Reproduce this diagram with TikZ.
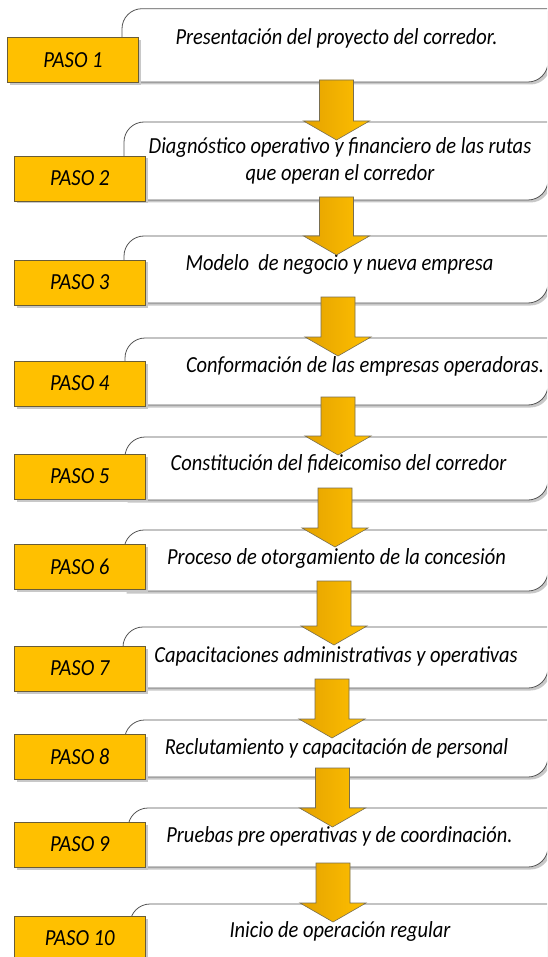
\documentclass[tikz,border=0pt]{standalone}
\usepackage{fontspec}
\usepackage{graphicx}
\setmainfont{Carlito}
\usetikzlibrary{calc,shadows}
\definecolor{gold}{RGB}{255,192,0}
\definecolor{golddark}{RGB}{228,162,0}
\definecolor{pasoline}{RGB}{105,92,55}
\definecolor{boxline}{RGB}{85,85,85}
\definecolor{shadowgray}{RGB}{200,200,200}
\definecolor{arrowline}{RGB}{120,110,80}
\newcommand\WBoxPath[3]{(#1,#3) -- (#1,#2+20) .. controls (#1,#2+9) and (#1+9,#2) .. (#1+20,#2) -- (548,#2) -- (548,#3-20) .. controls (548,#3-9) and (539,#3) .. (528,#3) -- cycle}
\newcommand\WBox[3]{%
  \fill[shadowgray,shift={(2.5,2.5)}] \WBoxPath{#1}{#2}{#3};
  \draw[wbox] \WBoxPath{#1}{#2}{#3};}
\newcommand\BArrow[4]{%
  \coordinate (#1s) at (#2,#3);
  \coordinate (#1e) at (#2,#4);
  \draw[barrow] ([xshift=-17pt]#1s) -- ([xshift=17pt]#1s) -- ([xshift=17pt,yshift=19pt]#1e) -- ([xshift=33pt,yshift=19pt]#1e) -- (#1e) -- ([xshift=-33pt,yshift=19pt]#1e) -- ([xshift=-17pt,yshift=19pt]#1e) -- cycle;}
\newcommand\sqz[1]{\scalebox{0.89}[1]{#1}}
\newcommand\psq[1]{\scalebox{0.9}[1]{#1}}
\begin{document}
\begin{tikzpicture}[x=1pt,y=-1pt,
  wbox/.style={draw=boxline,fill=white,line width=0.8pt},
  paso/.style={draw=pasoline,fill=gold,line width=0.8pt,minimum width=131pt,minimum height=45pt,inner sep=0pt,
    font=\fontsize{23}{27}\selectfont\itshape,
    drop shadow={shadow xshift=2.5pt,shadow yshift=-2.5pt,fill=shadowgray,opacity=1}},
  steptext/.style={inner sep=0pt,align=center,font=\fontsize{23}{27}\selectfont\itshape},
  barrow/.style={draw=arrowline,line width=0.6pt,left color=golddark,right color=gold}]
\useasboundingbox (0,0) rectangle (547,957);
\clip (0,0) rectangle (547,957);
\fill[white] (0,0) rectangle (547,957);
% white boxes
\WBox{122}{8.7}{82}
\WBox{124}{122}{200}
\WBox{124}{236}{303}
\WBox{125}{338}{405}
\WBox{125}{437}{500}
\WBox{124}{530}{591}
\WBox{123}{627}{688}
\WBox{124.5}{720}{777}
\WBox{128}{808}{867}
\WBox{130}{904}{975}
% texts
\node[steptext] (t1) at (336.5,38) {\sqz{Presentación del proyecto del corredor.}};
\node[steptext] (t2) at (340,161.5) {\sqz{\begin{tabular}{@{}c@{}}Diagnóstico operativo y financiero de las rutas\\que operan el corredor\end{tabular}}};
\node[steptext] (t3) at (339.5,264) {\sqz{Modelo\ \ de negocio y nueva empresa}};
\node[steptext] (t4) at (365,366) {\sqz{Conformación de las empresas operadoras.}};
\node[steptext] (t5) at (338.5,464) {\sqz{Constitución del fideicomiso del corredor}};
\node[steptext] (t6) at (336.5,558) {\sqz{Proceso de otorgamiento de la concesión}};
\node[steptext] (t7) at (336,656) {\sqz{Capacitaciones administrativas y operativas}};
\node[steptext] (t8) at (336.5,748) {\sqz{Reclutamiento y capacitación de personal}};
\node[steptext] (t9) at (339.5,836) {\sqz{Pruebas pre operativas y de coordinación.}};
\node[steptext] (t10) at (340,931) {\sqz{Inicio de operación regular}};
% PASO boxes
\node[paso] (p1) at (73,60) {\psq{PASO 1}};
\node[paso] (p2) at (79.75,178.5) {\psq{PASO 2}};
\node[paso] (p3) at (79.75,282.5) {\psq{PASO 3}};
\node[paso] (p4) at (79.75,383.5) {\psq{PASO 4}};
\node[paso] (p5) at (79.75,476.5) {\psq{PASO 5}};
\node[paso] (p6) at (79.75,566.5) {\psq{PASO 6}};
\node[paso] (p7) at (79.75,668.5) {\psq{PASO 7}};
\node[paso] (p8) at (79.75,757) {\psq{PASO 8}};
\node[paso] (p9) at (79.75,844.5) {\psq{PASO 9}};
\node[paso] (p10) at (79.75,938.5) {\psq{PASO 10}};
% arrows
\BArrow{a1}{336.5}{80}{140}
\BArrow{a2}{336.5}{197}{255}
\BArrow{a3}{338}{297}{356}
\BArrow{a4}{338}{397}{455}
\BArrow{a5}{335}{488}{547}
\BArrow{a6}{334}{581}{645}
\BArrow{a7}{332}{679}{738}
\BArrow{a8}{332.5}{768}{827}
\BArrow{a9}{333}{863}{922}
\end{tikzpicture}
\end{document}
